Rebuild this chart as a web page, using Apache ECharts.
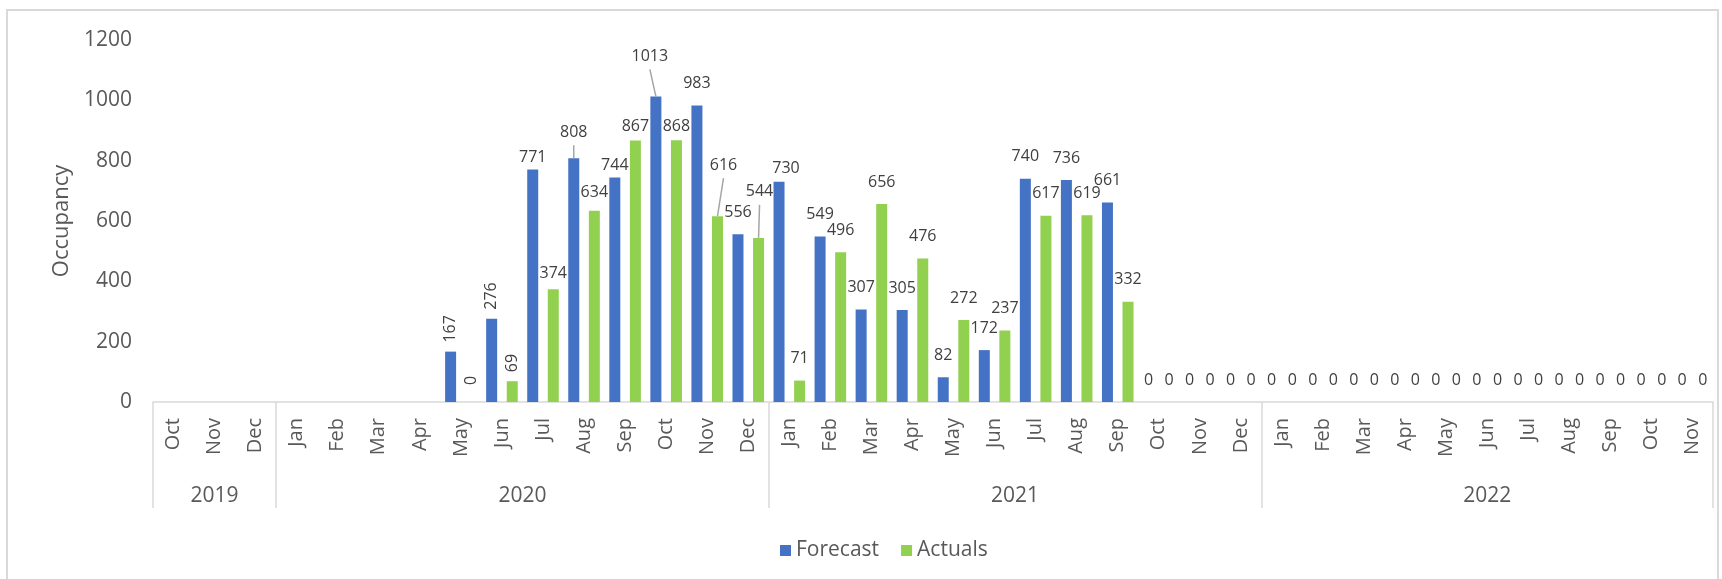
<!DOCTYPE html>
<html>
<head>
<meta charset="utf-8">
<script src="https://cdn.jsdelivr.net/npm/echarts@6/dist/echarts.min.js"></script>
<style>
html,body{margin:0;padding:0;background:#ffffff;}
#chart{width:1722px;height:579px;}
</style>
</head>
<body>
<div id="chart"></div>
<script>
// ---- data ----
const months = ['Oct','Nov','Dec',
  'Jan','Feb','Mar','Apr','May','Jun','Jul','Aug','Sep','Oct','Nov','Dec',
  'Jan','Feb','Mar','Apr','May','Jun','Jul','Aug','Sep','Oct','Nov','Dec',
  'Jan','Feb','Mar','Apr','May','Jun','Jul','Aug','Sep','Oct','Nov'];
const years = ['2019','2020','2021','2022'];
const monthsPerYear = [3, 12, 12, 11];
const forecast = [null, null, null, null, null, null, null,
  167, 276, 771, 808, 744, 1013, 983, 556,
  730, 549, 307, 305, 82, 172, 740, 736, 661,
  0, 0, 0, 0, 0, 0, 0, 0, 0, 0, 0, 0, 0, 0];
const actuals = [null, null, null, null, null, null, null,
  0, 69, 374, 634, 867, 868, 616, 544,
  71, 496, 656, 476, 272, 237, 617, 619, 332,
  0, 0, 0, 0, 0, 0, 0, 0, 0, 0, 0, 0, 0, 0];
const yMin = 0, yMax = 1200, yStep = 200;

// ---- label layout tweaks (positions only) ----
const labelTweaks = {
  Forecast: {7:{rot:true,d:9}, 8:{rot:true,d:9}, 9:{d:4}, 10:{d:18,line:true}, 11:{d:4},
             12:{d:32,dx:-6,line:true}, 15:{d:5,dx:7}},
  Actuals:  {7:{rot:true,d:17}, 8:{rot:true,d:9}, 9:{d:8}, 10:{d:10}, 11:{d:6}, 12:{d:6},
             13:{d:43,dx:6,line:true}, 14:{d:38,dx:1,line:true}}
};
const BASE_DIST = 14;
const BAR_W = 11, BAR_GAP = 0.87;
const BAR_HALF = (BAR_W + BAR_W * BAR_GAP) / 2;
const FONT = "'Open Sans', 'Liberation Sans', sans-serif";

function buildItems(name, values) {
  const tw = labelTweaks[name];
  return values.map((v, i) => {
    const t = tw[i];
    if (v === null) return {value: '-'};
    if (!t) return {value: v};
    const item = {value: v, label: {distance: t.d}};
    if (t.rot) {
      item.label.rotate = 90; item.label.align = 'left'; item.label.verticalAlign = 'middle';
    }
    if (t.dx) item.label.offset = [t.dx, 0];
    return item;
  });
}

// leader lines: [categoryIndex, value, side(-1 forecast / +1 actuals)]
const leaderData = [];
[['Forecast', forecast, -1], ['Actuals', actuals, 1]].forEach(([name, vals, side]) => {
  Object.keys(labelTweaks[name]).forEach(k => {
    const i = +k;
    if (labelTweaks[name][i].line) leaderData.push([i, vals[i], side]);
  });
});

// year group boundaries and centres on a 0..N value scale
const boundaries = [0];
monthsPerYear.forEach(n => boundaries.push(boundaries[boundaries.length - 1] + n));
const centres = monthsPerYear.map((n, i) => boundaries[i] + n / 2);

const chart = echarts.init(document.getElementById('chart'), null, {renderer: 'canvas'});
const option = {
  animation: false,
  textStyle: {fontFamily: FONT},
  graphic: [{
    type: 'rect', silent: true,
    shape: {x: 7, y: 10, width: 1711, height: 580},
    style: {fill: 'none', stroke: '#d9d9d9', lineWidth: 2}
  }],
  grid: {left: 153, right: 9, top: 40, bottom: 177, containLabel: false},
  legend: {
    data: ['Forecast', 'Actuals'],
    left: 775, top: 535,
    icon: 'rect', itemWidth: 11, itemHeight: 11, itemGap: 22,
    textStyle: {fontSize: 21, color: '#595959', fontFamily: FONT}
  },
  xAxis: [{
    type: 'category',
    data: months,
    position: 'bottom',
    axisLine: {show: true, lineStyle: {color: '#d9d9d9', width: 1.5}},
    axisTick: {show: false},
    axisLabel: {interval: 0, rotate: 90, margin: 16, fontSize: 20, color: '#595959', fontFamily: FONT}
  }, {
    type: 'value',
    min: 0, max: months.length,
    position: 'bottom',
    axisLine: {show: false},
    splitLine: {show: false},
    axisTick: {show: true, customValues: boundaries, length: 106, lineStyle: {color: '#d9d9d9', width: 1.5}},
    axisLabel: {
      customValues: centres, margin: 84, fontSize: 21, color: '#595959', fontFamily: FONT,
      formatter: v => { const k = centres.findIndex(c => Math.abs(c - v) < 1e-6); return k >= 0 ? years[k] : ''; }
    }
  }],
  yAxis: {
    type: 'value', min: yMin, max: yMax, interval: yStep,
    name: 'Occupancy', nameLocation: 'middle', nameGap: 80, nameRotate: 90,
    nameTextStyle: {fontSize: 22, color: '#595959', fontFamily: FONT},
    axisLine: {show: false}, axisTick: {show: false}, splitLine: {show: false},
    axisLabel: {fontSize: 21, color: '#595959', margin: 21, fontFamily: FONT, formatter: v => String(v)}
  },
  series: [{
    name: 'Forecast', type: 'bar', xAxisIndex: 0,
    barWidth: BAR_W, barGap: (BAR_GAP * 100) + '%',
    itemStyle: {color: '#4472c4'},
    label: {show: true, position: 'top', distance: BASE_DIST, fontSize: 16, color: '#404040', fontFamily: FONT},
    data: buildItems('Forecast', forecast)
  }, {
    name: 'Actuals', type: 'bar', xAxisIndex: 0,
    barWidth: BAR_W, barGap: (BAR_GAP * 100) + '%',
    itemStyle: {color: '#92d050'},
    label: {show: true, position: 'top', distance: BASE_DIST, fontSize: 16, color: '#404040', fontFamily: FONT},
    data: buildItems('Actuals', actuals)
  }, {
    name: 'leaders', type: 'custom', xAxisIndex: 0, yAxisIndex: 0,
    silent: true, z: 5,
    data: leaderData,
    renderItem: (params, api) => {
      const i = api.value(0), v = api.value(1), s = api.value(2);
      const t = labelTweaks[s < 0 ? 'Forecast' : 'Actuals'][i];
      const p = api.coord([i, v]);
      const x0 = p[0] + s * BAR_HALF;
      const y0 = p[1];
      return {
        type: 'line',
        shape: {x1: x0, y1: y0, x2: x0 + (t.dx || 0), y2: y0 - t.d + 5},
        style: {stroke: '#a6a6a6', lineWidth: 1.5}
      };
    }
  }]
};
chart.setOption(option);
</script>
</body>
</html>
